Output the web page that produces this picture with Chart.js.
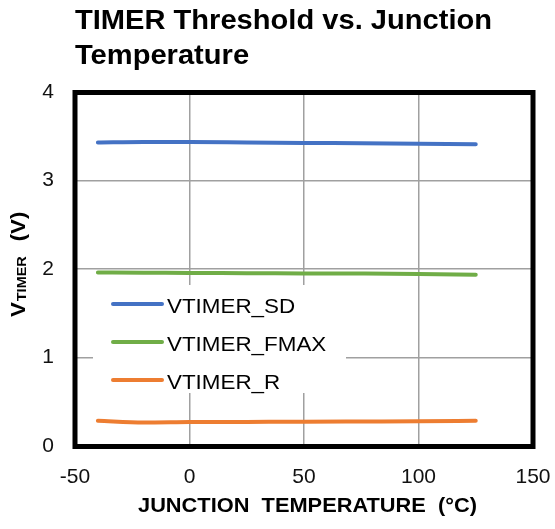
<!DOCTYPE html>
<html>
<head>
<meta charset="utf-8">
<script src="https://cdn.jsdelivr.net/npm/chart.js@4.4.1/dist/chart.umd.min.js"></script>
<style>
html,body{margin:0;padding:0;background:#fff;}
#wrap{width:555px;height:529px;position:relative;}
</style>
</head>
<body>
<div id="wrap"><canvas id="c" width="555" height="529"></canvas></div>
<script>
// ---- data ----
const temps = [-40, -20, 0, 25, 50, 75, 100, 125];
const vSD   = [3.43, 3.435, 3.435, 3.43, 3.425, 3.42, 3.415, 3.41];
const vFMAX = [1.96, 1.958, 1.955, 1.953, 1.95, 1.948, 1.944, 1.936];
const vR    = [0.285, 0.265, 0.27, 0.272, 0.274, 0.277, 0.28, 0.285];
const seriesNames = ['VTIMER_SD', 'VTIMER_FMAX', 'VTIMER_R'];
const xTicks = [-50, 0, 50, 100, 150];
const yTicks = [0, 1, 2, 3, 4];
const titleLines = ['TIMER Threshold vs. Junction', 'Temperature'];
const xTitle = 'JUNCTION  TEMPERATURE  (°C)';

const FONT = "'Liberation Sans', Arial, sans-serif";
const colors = ['#4472C4', '#70AD47', '#ED7D31'];
const SX = 1.11; // horizontal stretch of text seen in the reference

function pts(vals){ return temps.map((t,i)=>({x:t, y:vals[i]})); }

function stretchedText(ctx, txt, x, y, sx){
  ctx.save();
  ctx.translate(x, y);
  ctx.scale(sx, 1);
  ctx.fillText(txt, 0, 0);
  ctx.restore();
}

const decor = {
  id: 'decor',
  afterDatasetsDraw(chart){
    const ctx = chart.ctx, a = chart.chartArea;
    ctx.save();
    // legend box (inside plot)
    const lx = a.left + 18, ly = a.top + 193, lw = 253, lh = 108;
    ctx.fillStyle = '#fff';
    ctx.fillRect(lx, ly, lw, lh);
    chart.data.datasets.forEach((ds, i) => {
      const cy = ly + 19 + i * 38;
      ctx.strokeStyle = ds.borderColor;
      ctx.lineWidth = 4;
      ctx.lineCap = 'round';
      ctx.beginPath();
      ctx.moveTo(lx + 20, cy);
      ctx.lineTo(lx + 69, cy);
      ctx.stroke();
      ctx.fillStyle = '#000';
      ctx.font = '20px ' + FONT;
      ctx.textBaseline = 'alphabetic';
      ctx.textAlign = 'left';
      stretchedText(ctx, ds.label, lx + 74, cy + 9, 1.12);
    });
    ctx.restore();
  },
  afterDraw(chart){
    const ctx = chart.ctx, a = chart.chartArea;
    ctx.save();
    // thick plot border
    ctx.strokeStyle = '#000';
    ctx.lineWidth = 5;
    ctx.lineJoin = 'miter';
    ctx.strokeRect(a.left, a.top + 0.5, a.right - a.left, a.bottom - a.top);
    // title
    ctx.fillStyle = '#000';
    ctx.font = 'bold 27px ' + FONT;
    ctx.textAlign = 'left';
    ctx.textBaseline = 'alphabetic';
    const tsx = 417 / ctx.measureText(titleLines[0]).width;
    stretchedText(ctx, titleLines[0], 75, 29, tsx);
    stretchedText(ctx, titleLines[1], 75, 64, tsx);
    // x title
    ctx.font = 'bold 20px ' + FONT;
    const xw = ctx.measureText(xTitle).width;
    const xsx = 339 / xw;
    stretchedText(ctx, xTitle, 307.5 - 339 / 2, 512, xsx);
    // y title with subscript, rotated
    ctx.translate(25, 317);
    ctx.rotate(-Math.PI / 2);
    ctx.textAlign = 'left';
    let x = 0;
    ctx.font = 'bold 20px ' + FONT;
    stretchedText(ctx, 'V', x, 0, SX);
    x += ctx.measureText('V').width * SX + 1;
    ctx.font = 'bold 13px ' + FONT;
    stretchedText(ctx, 'TIMER', x, 1, SX);
    x += ctx.measureText('TIMER').width * SX + 15;
    ctx.font = 'bold 20px ' + FONT;
    stretchedText(ctx, '(V)', x, 0, SX);
    ctx.restore();
  }
};

new Chart(document.getElementById('c'), {
  type: 'scatter',
  data: {
    datasets: [vSD, vFMAX, vR].map((v, i) => ({
      label: seriesNames[i],
      data: pts(v),
      showLine: true,
      borderColor: colors[i],
      backgroundColor: colors[i],
      borderWidth: 4,
      pointRadius: 0,
      tension: 0.4,
      cubicInterpolationMode: 'monotone',
      borderCapStyle: 'round'
    }))
  },
  options: {
    responsive: false,
    animation: false,
    devicePixelRatio: 1,
    layout: { padding: { left: 0, right: 22, top: 92, bottom: 0 } },
    plugins: { legend: { display: false }, title: { display: false }, tooltip: { enabled: false } },
    scales: {
      x: {
        type: 'linear', min: -50, max: 150,
        afterBuildTicks(s){ s.ticks = xTicks.map(v => ({value: v})); },
        afterFit(s){ s.height = 83; s.paddingLeft = 0; s.paddingRight = 0; },
        grid: { color: '#a0a0a0', lineWidth: 1.5, drawTicks: false },
        border: { display: false },
        ticks: { color: '#111', padding: 19, font: { family: FONT, size: 21 }, maxRotation: 0 }
      },
      y: {
        type: 'linear', min: 0, max: 4,
        afterBuildTicks(s){ s.ticks = yTicks.map(v => ({value: v})); },
        afterFit(s){ s.width = 75; s.paddingTop = 0; s.paddingBottom = 0; },
        grid: { color: '#a0a0a0', lineWidth: 1.5, drawTicks: false },
        border: { display: false },
        ticks: { color: '#111', padding: 21, font: { family: FONT, size: 21 } }
      }
    }
  },
  plugins: [decor]
});
</script>
</body>
</html>
